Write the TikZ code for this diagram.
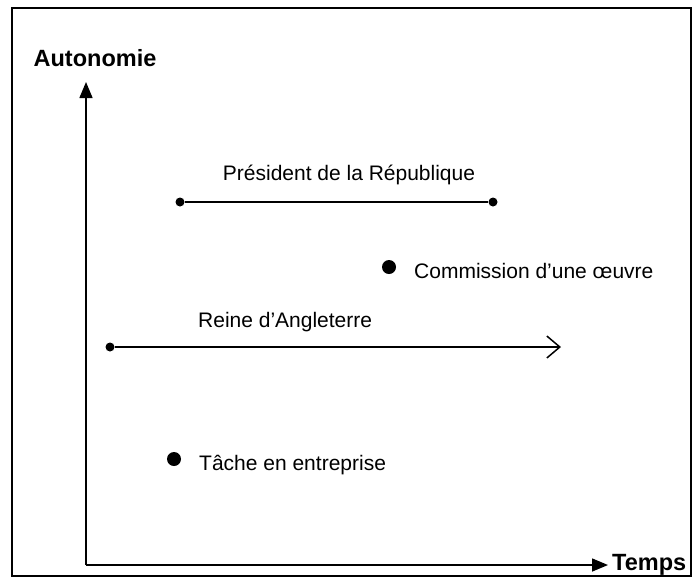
\documentclass[tikz,border=0pt]{standalone}
\usepackage{fontspec}
\setmainfont{Liberation Sans}
\usetikzlibrary{arrows.meta}
\begin{document}
\begin{tikzpicture}[x=1pt,y=-1pt,
  lbl/.style={inner sep=0pt,font=\fontsize{21}{24}\selectfont},
  axlbl/.style={inner sep=0pt,font=\fontsize{23.5}{26}\selectfont\bfseries},
  bigdot/.style={circle,fill=black,inner sep=0pt,minimum size=14pt},
  smalldot/.style={circle,fill=black,inner sep=0pt,minimum size=9pt},
  line/.style={line width=1.5pt}]
\useasboundingbox (0,0) rectangle (699,582);
\draw[line width=1.5pt] (12,8) rectangle (691,576);
% axes
\coordinate (O) at (86,565);
\coordinate (Ytip) at (86,82);
\coordinate (Xtip) at (608,565);
\draw[line,-{Triangle[length=16pt,width=13pt]}] (O) -- (Ytip);
\draw[line,-{Triangle[length=16pt,width=13pt]}] (O) -- (Xtip);
\node[axlbl] (auto) at (95,58) {Autonomie};
\node[axlbl,anchor=west] (temps) at (612,565) {Temps};
% President
\node[lbl] (pres) at (349,175) {Président de la République};
\node[smalldot] (p1) at (180,202) {};
\node[smalldot] (p2) at (493,202) {};
\draw[line] (p1) -- (p2);
% Commission
\node[bigdot] (c) at (389,267) {};
\node[lbl,anchor=west] (ctext) at (414,271) {Commission d’une œuvre};
% Reine
\node[lbl,anchor=west] (rtext) at (198,322) {Reine d’Angleterre};
\node[smalldot] (r1) at (110,347) {};
\coordinate (r2) at (561,347);
\draw[line,-{Straight Barb[length=13pt,width=22pt,line width=1.5pt]}] (r1) -- (r2);
% Tache
\node[bigdot] (t) at (174,459) {};
\node[lbl,anchor=west] (ttext) at (199,465) {Tâche en entreprise};
\end{tikzpicture}
\end{document}
